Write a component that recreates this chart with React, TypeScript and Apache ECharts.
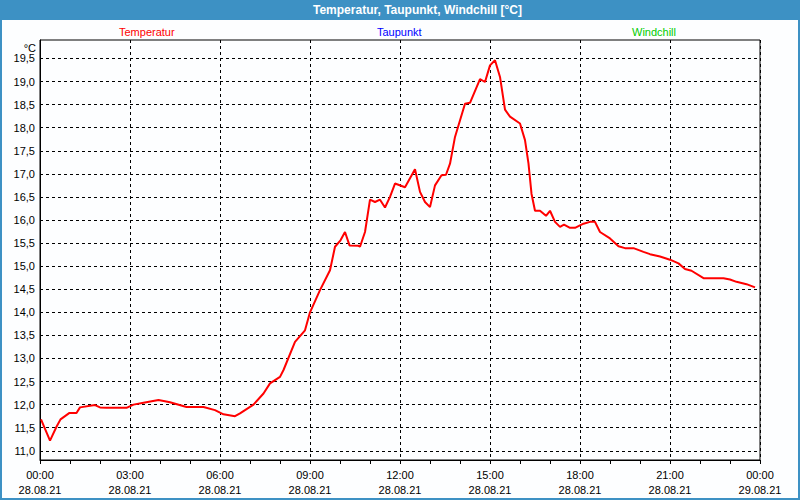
import React, { useEffect, useRef } from "react";
import * as echarts from "echarts";

// Measurement times (28.08.21) and temperatures in °C
const times = [
  "00:02", "00:20", "00:33", "00:41", "00:59", "01:13", "01:20", "01:50", "02:00", "02:13",
  "02:53", "03:07", "03:27", "03:57", "04:20", "04:53", "05:27", "05:50", "06:07", "06:30",
  "06:40", "07:07", "07:27", "07:40", "08:00", "08:07", "08:30", "08:50", "09:00", "09:20",
  "09:40", "09:50", "10:01", "10:10", "10:19", "10:37", "10:40", "10:50", "11:00", "11:10",
  "11:20", "11:30", "11:40", "11:50", "12:10", "12:30", "12:40", "12:50", "13:00", "13:10",
  "13:23", "13:32", "13:40", "13:50", "14:10", "14:20", "14:40", "14:50", "15:00", "15:10",
  "15:20", "15:30", "15:40", "16:00", "16:10", "16:17", "16:23", "16:30", "16:40", "16:52",
  "17:00", "17:10", "17:20", "17:28", "17:40", "17:50", "18:07", "18:20", "18:30", "18:40",
  "19:00", "19:17", "19:30", "19:47", "20:07", "20:20", "20:40", "21:00", "21:17", "21:30",
  "21:43", "22:07", "22:47", "23:00", "23:13", "23:33", "23:50"
];
const temperatur = [
  11.68, 11.22, 11.52, 11.68, 11.82, 11.82, 11.94, 11.99, 11.94, 11.93,
  11.93, 12.0, 12.04, 12.1, 12.05, 11.95, 11.95, 11.88, 11.79, 11.75,
  11.81, 12.0, 12.24, 12.46, 12.6, 12.75, 13.36, 13.61, 14.0, 14.48,
  14.91, 15.42, 15.56, 15.74, 15.45, 15.44, 15.42, 15.74, 16.44, 16.39,
  16.44, 16.27, 16.5, 16.79, 16.71, 17.1, 16.61, 16.39, 16.28, 16.75,
  16.97, 16.98, 17.22, 17.8, 18.52, 18.54, 19.05, 18.99, 19.35, 19.46,
  19.1, 18.39, 18.24, 18.09, 17.73, 17.22, 16.57, 16.2, 16.2, 16.09,
  16.2, 15.96, 15.85, 15.9, 15.83, 15.83, 15.92, 15.96, 15.96, 15.74,
  15.6, 15.43, 15.39, 15.39, 15.31, 15.26, 15.21, 15.14, 15.06, 14.94,
  14.9, 14.74, 14.74, 14.71, 14.66, 14.61, 14.54
];
const taupunkt: number[] = [];
const windchill: number[] = [];

const xTimeLabels = ["00:00", "03:00", "06:00", "09:00", "12:00", "15:00", "18:00", "21:00", "00:00"];
const xDateLabels = [
  "28.08.21", "28.08.21", "28.08.21", "28.08.21", "28.08.21",
  "28.08.21", "28.08.21", "28.08.21", "29.08.21"
];
const yTickValues = [11.0, 11.5, 12.0, 12.5, 13.0, 13.5, 14.0, 14.5, 15.0, 15.5, 16.0, 16.5, 17.0, 17.5, 18.0, 18.5, 19.0, 19.5];

const FONT = "Liberation Sans";
const FRAME = "#3d91c4";

function toHours(t: string): number {
  const [h, m] = t.split(":").map(Number);
  return h + m / 60;
}

export default function App() {
  const ref = useRef<HTMLDivElement>(null);

  useEffect(() => {
    if (!ref.current) return;
    const chart = echarts.init(ref.current, undefined, { renderer: "svg" });
    const tempData = times.map((t, i) => [toHours(t), temperatur[i]]);

    chart.setOption({
      animation: false,
      backgroundColor: "#fdfeff",
      title: {
        text: "Temperatur, Taupunkt, Windchill [°C]",
        left: 313,
        top: 4,
        padding: 0,
        textStyle: { color: "#ffffff", fontWeight: "bold", fontSize: 12, fontFamily: FONT }
      },
      graphic: [
        { type: "rect", shape: { x: 0, y: 0, width: 800, height: 20 }, style: { fill: FRAME }, z: 0, silent: true },
        { type: "rect", shape: { x: 0, y: 0, width: 2, height: 500 }, style: { fill: FRAME }, z: 0, silent: true },
        { type: "rect", shape: { x: 798, y: 0, width: 2, height: 500 }, style: { fill: FRAME }, z: 0, silent: true },
        { type: "rect", shape: { x: 0, y: 498, width: 800, height: 2 }, style: { fill: FRAME }, z: 0, silent: true }
      ],
      legend: [
        {
          data: [{ name: "Temperatur", textStyle: { color: "#ff0000" } }],
          left: 114, top: 25, icon: "none", itemWidth: 0, itemHeight: 14, padding: 0,
          textStyle: { fontSize: 11, fontFamily: FONT }
        },
        {
          data: [{ name: "Taupunkt", textStyle: { color: "#0000ff" } }],
          left: 372, top: 25, icon: "none", itemWidth: 0, itemHeight: 14, padding: 0,
          textStyle: { fontSize: 11, fontFamily: FONT }
        },
        {
          data: [{ name: "Windchill", textStyle: { color: "#00cc00" } }],
          left: 627, top: 25, icon: "none", itemWidth: 0, itemHeight: 14, padding: 0,
          textStyle: { fontSize: 11, fontFamily: FONT }
        }
      ],
      grid: {
        left: 40, right: 40, top: 40, bottom: 40,
        show: true, borderColor: "#000000", borderWidth: 1
      },
      xAxis: {
        type: "value",
        min: 0,
        max: 24,
        interval: 3,
        axisLine: { show: true, lineStyle: { color: "#000000", width: 1 } },
        axisTick: { show: true, length: 4, lineStyle: { color: "#000000" } },
        minorTick: { show: true, splitNumber: 3, length: 4, lineStyle: { color: "#000000" } },
        splitLine: { show: true, lineStyle: { color: "#000000", type: [3, 3], width: 1 } },
        axisLabel: {
          color: "#000000",
          fontSize: 11,
          fontFamily: FONT,
          lineHeight: 15,
          margin: 7,
          showMinLabel: true,
          showMaxLabel: true,
          formatter: (v: number) => {
            const i = Math.round(v / 3);
            return xTimeLabels[i] + "\n" + xDateLabels[i];
          }
        }
      },
      yAxis: {
        type: "value",
        min: 10.8,
        max: 19.9,
        name: "°C",
        nameLocation: "end",
        nameGap: -2,
        nameTextStyle: {
          color: "#000000", fontSize: 11, fontFamily: FONT,
          align: "right", verticalAlign: "top", padding: [0, 4, 0, 0]
        },
        axisLine: { show: true, lineStyle: { color: "#000000", width: 1 } },
        axisTick: { show: false, customValues: yTickValues },
        axisLabel: {
          customValues: yTickValues,
          color: "#000000",
          fontSize: 11,
          fontFamily: FONT,
          margin: 5,
          formatter: (v: number) => v.toFixed(1).replace(".", ",")
        },
        splitLine: { show: true, lineStyle: { color: "#000000", type: [3, 3], width: 1 } }
      },
      series: [
        {
          name: "Temperatur",
          type: "line",
          data: tempData,
          showSymbol: false,
          color: "#ff0000",
          lineStyle: { color: "#ff0000", width: 2 },
          z: 5
        },
        { name: "Taupunkt", type: "line", data: taupunkt, showSymbol: false, color: "#0000ff" },
        { name: "Windchill", type: "line", data: windchill, showSymbol: false, color: "#00cc00" }
      ]
    });

    return () => chart.dispose();
  }, []);

  return (
    <div
      ref={ref}
      style={{ position: "fixed", left: 0, top: 0, width: 800, height: 500 }}
    />
  );
}
